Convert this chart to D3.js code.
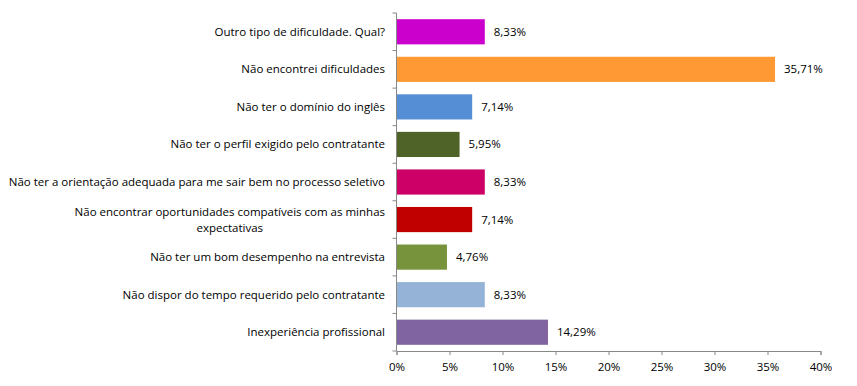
<!DOCTYPE html>
<html>
<head>
<meta charset="utf-8">
<script src="https://cdn.jsdelivr.net/npm/d3@7"></script>
<style>
  body { margin: 0; background: #fff; }
  svg { display: block; font-family: "Open Sans", "Noto Sans", sans-serif; }
</style>
</head>
<body>
<script>
// Kategorien von oben nach unten
const categories = [
    ["Outro tipo de dificuldade. Qual?"],
    ["Não encontrei dificuldades"],
    ["Não ter o domínio do inglês"],
    ["Não ter o perfil exigido pelo contratante"],
    ["Não ter a orientação adequada para me sair bem no processo seletivo"],
    ["Não encontrar oportunidades compatíveis com as minhas", "expectativas"],
    ["Não ter um bom desempenho na entrevista"],
    ["Não dispor do tempo requerido pelo contratante"],
    ["Inexperiência profissional"]
];
const values = [8.33, 35.71, 7.14, 5.95, 8.33, 7.14, 4.76, 8.33, 14.29];
const colors = ["#CC00CC", "#FF9933", "#558ED5", "#4F6228", "#CC0066", "#C00000", "#77933C", "#95B3D7", "#8064A2"];
const xTicks = [0, 5, 10, 15, 20, 25, 30, 35, 40];

const width = 857, height = 386;
const margin = { top: 13, left: 396.5, right: 36.5, bottom: 35 };
const fontSize = "11.5px";

const svg = d3.select("body").append("svg")
    .attr("width", width)
    .attr("height", height);

const x = d3.scaleLinear().domain([0, 40]).range([margin.left, width - margin.right]);
const y = d3.scaleBand()
    .domain(d3.range(categories.length))
    .range([margin.top, height - margin.bottom])
    .paddingInner(0.33)
    .paddingOuter(0.165);

const fmt = v => v.toFixed(2).replace(".", ",") + "%";

// Balken
svg.append("g")
    .selectAll("rect")
    .data(values)
    .join("rect")
    .attr("x", x(0))
    .attr("y", (d, i) => y(i))
    .attr("width", d => x(d) - x(0))
    .attr("height", y.bandwidth())
    .attr("fill", (d, i) => colors[i]);

// Werte
svg.append("g")
    .selectAll("text")
    .data(values)
    .join("text")
    .attr("x", d => x(d) + 9)
    .attr("y", (d, i) => y(i) + y.bandwidth() / 2)
    .attr("dy", "0.35em")
    .attr("font-size", fontSize)
    .attr("fill", "#000")
    .text(d => fmt(d));

// Y-Achse
const yAxisLine = svg.append("g").attr("stroke", "#888").attr("stroke-width", 1);
yAxisLine.append("line")
    .attr("x1", x(0)).attr("x2", x(0))
    .attr("y1", margin.top).attr("y2", height - margin.bottom);
const tickY = i => margin.top + i * (height - margin.top - margin.bottom) / categories.length;
yAxisLine.selectAll("line.tick")
    .data(d3.range(categories.length + 1))
    .join("line")
    .attr("class", "tick")
    .attr("x1", x(0) - 4).attr("x2", x(0))
    .attr("y1", tickY)
    .attr("y2", tickY);

// Kategorie-Labels (rechtsbündig, mehrzeilige zentriert)
const labelRight = x(0) - 11.5;
const labels = svg.append("g")
    .selectAll("text")
    .data(categories)
    .join("text")
    .attr("font-size", fontSize)
    .attr("fill", "#000")
    .attr("y", (d, i) => y(i) + y.bandwidth() / 2 - (d.length - 1) * 8);
labels.selectAll("tspan")
    .data(d => d)
    .join("tspan")
    .attr("dy", (d, i) => i === 0 ? "0.35em" : "16px")
    .text(d => d);
labels.each(function (d) {
    const t = d3.select(this);
    if (d.length > 1) {
        let maxW = 0;
        t.selectAll("tspan").each(function () { maxW = Math.max(maxW, this.getComputedTextLength()); });
        const cx = labelRight - maxW / 2;
        t.attr("text-anchor", "middle").selectAll("tspan").attr("x", cx);
    } else {
        t.attr("text-anchor", "end").selectAll("tspan").attr("x", labelRight);
    }
});

// X-Achse
const xAxis = svg.append("g")
    .attr("transform", `translate(0,${height - margin.bottom})`)
    .call(d3.axisBottom(x).tickValues(xTicks).tickSize(4).tickFormat(d => d + "%"));
xAxis.select(".domain").attr("stroke", "#888");
xAxis.selectAll(".tick line").attr("stroke", "#888");
xAxis.selectAll(".tick text")
    .attr("font-size", fontSize)
    .attr("font-family", "\"Open Sans\", \"Noto Sans\", sans-serif")
    .attr("fill", "#000")
    .attr("dy", "1.1em");
</script>
</body>
</html>
